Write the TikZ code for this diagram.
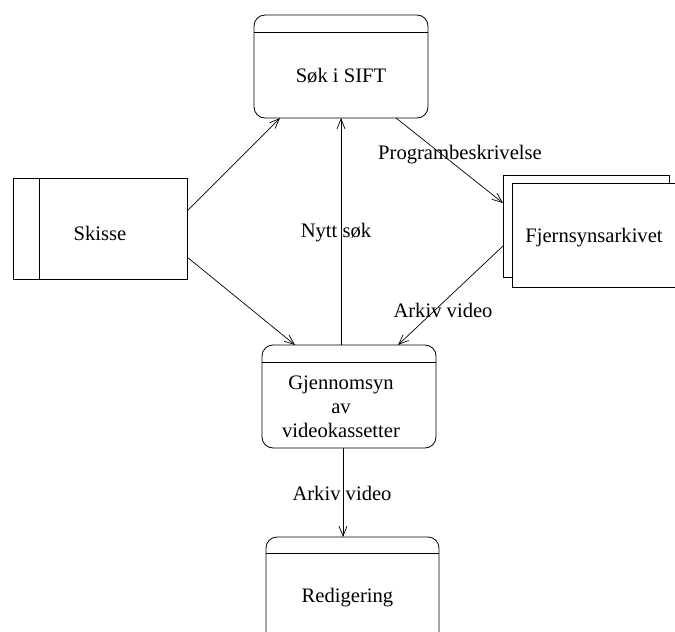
\documentclass[tikz,border=0pt]{standalone}
\usepackage{fontspec}
\setmainfont{Liberation Serif}
\usetikzlibrary{arrows.meta}
\begin{document}
\begin{tikzpicture}[x=1pt,y=-1pt,
  line width=0.8pt,
  txt/.style={font=\fontsize{20.6}{24}\selectfont, inner sep=0pt},
  proc/.style={draw, rounded corners=11pt, inner sep=0pt, outer sep=0pt},
  ext/.style={draw, fill=white, inner sep=0pt, outer sep=0pt},
  flow/.style={-{Straight Barb[length=10pt,width=8pt]}, line width=0.7pt}]
\useasboundingbox (0,0) rectangle (675,632);

% Process boxes with a header strip
\node[proc, minimum width=174pt, minimum height=103pt] (sok) at (341,66.5) {};
\draw ([yshift=-17pt]sok.north west) -- ([yshift=-17pt]sok.north east);
\node[txt] (soklbl) at (341,76) {Søk i SIFT};

\node[proc, minimum width=174pt, minimum height=103pt] (gjen) at (349,396.5) {};
\draw ([yshift=-17pt]gjen.north west) -- ([yshift=-17pt]gjen.north east);
\node[txt, align=center] (gjenlbl) at (341,407) {Gjennomsyn\\av\\videokassetter};

\node[proc, minimum width=173pt, minimum height=112pt] (red) at (352.5,593) {};
\draw ([yshift=-16pt]red.north west) -- ([yshift=-16pt]red.north east);
\node[txt] (redlbl) at (347.5,598) {Redigering};

% External entity with a side strip
\node[ext, minimum width=174pt, minimum height=101pt] (skisse) at (100,228.5) {};
\draw ([xshift=26pt]skisse.north west) -- ([xshift=26pt]skisse.south west);
\node[txt] (skisselbl) at (100,233) {Skisse};

% Archive: two stacked sheets
\node[ext, minimum width=166pt, minimum height=102pt] (fjback) at (586,226) {};
\node[ext, minimum width=166pt, minimum height=104pt] (fjfront) at (595,235) {};
\node[txt] (fjlbl) at (594,238) {Fjernsynsarkivet};

% Data flows
\draw[flow] ([yshift=17.5pt]skisse.east) -- ([xshift=-61pt]sok.south);
\draw[flow] ([yshift=-28.5pt]skisse.east) -- ([xshift=-54pt]gjen.north);
\draw[flow] (gjen.north -| sok.south) -- (sok.south);
\draw[flow] ([xshift=55pt]sok.south) -- ([yshift=23pt]fjback.west);
\draw[flow] ([yshift=-20pt]fjback.west) -- ([xshift=49pt]gjen.north);
\draw[flow] ([xshift=-6pt]gjen.south) -- ([xshift=-6pt]gjen.south |- red.north);

% Flow labels
\node[txt] (lprog) at (460,155) {Programbeskrivelse};
\node[txt] (lnytt) at (336,233) {Nytt søk};
\node[txt] (larkiv1) at (443,310) {Arkiv video};
\node[txt] (larkiv2) at (342,493) {Arkiv video};
\end{tikzpicture}
\end{document}
